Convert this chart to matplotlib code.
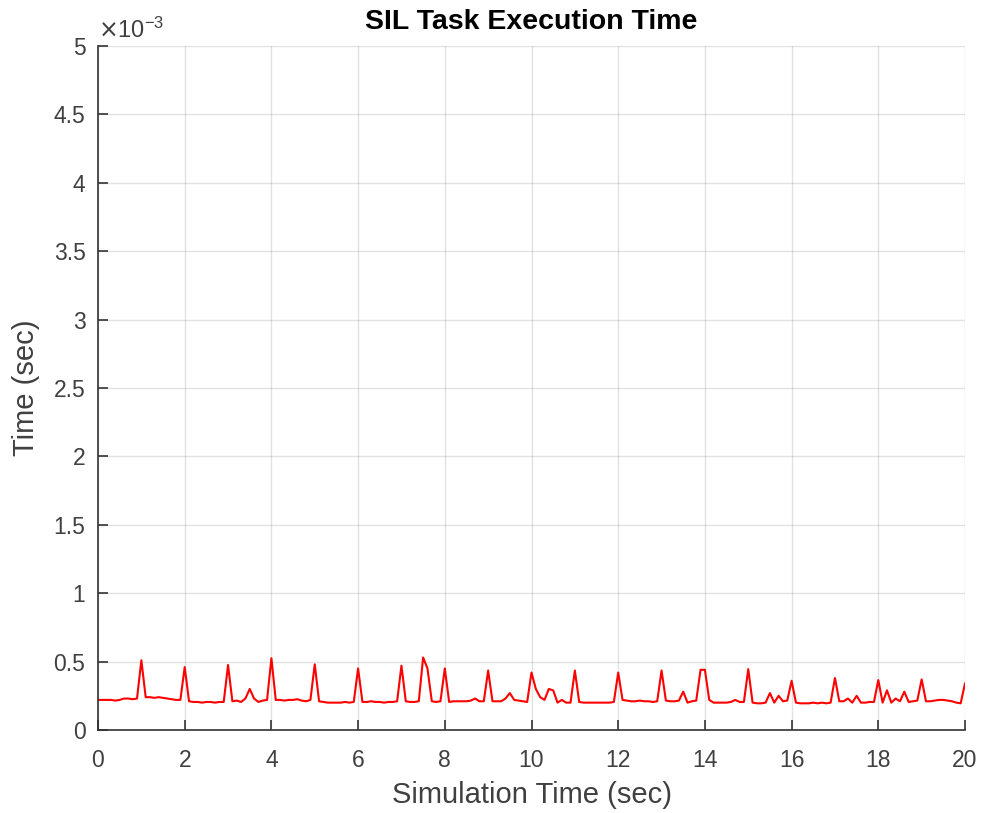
import numpy as np
import matplotlib
matplotlib.use("Agg")
import matplotlib.pyplot as plt
from matplotlib.ticker import FuncFormatter, MultipleLocator

plt.rcParams['font.family'] = ['Liberation Sans', 'DejaVu Sans']

# Simulation time (sec), 0.1 s steps
sim_time = np.round(np.arange(0, 201) * 0.1, 1)

# Task execution time in units of 1e-3 sec
exec_ms = [
    0.22, 0.22, 0.22, 0.22, 0.215, 0.22, 0.23, 0.23, 0.225, 0.23,
    0.51, 0.24, 0.24, 0.235, 0.24, 0.235, 0.23, 0.225, 0.22, 0.22,
    0.46, 0.21, 0.205, 0.205, 0.20, 0.205, 0.205, 0.20, 0.205, 0.205,
    0.475, 0.21, 0.215, 0.205, 0.23, 0.30, 0.23, 0.205, 0.215, 0.22,
    0.525, 0.22, 0.22, 0.215, 0.22, 0.22, 0.225, 0.215, 0.21, 0.22,
    0.48, 0.21, 0.205, 0.20, 0.20, 0.20, 0.20, 0.205, 0.20, 0.205,
    0.45, 0.205, 0.205, 0.21, 0.205, 0.205, 0.20, 0.205, 0.205, 0.21,
    0.47, 0.21, 0.205, 0.205, 0.21, 0.53, 0.45, 0.21, 0.205, 0.21,
    0.45, 0.205, 0.21, 0.21, 0.21, 0.21, 0.215, 0.23, 0.21, 0.21,
    0.435, 0.21, 0.21, 0.21, 0.23, 0.27, 0.22, 0.215, 0.21, 0.205,
    0.42, 0.30, 0.24, 0.22, 0.30, 0.29, 0.20, 0.22, 0.20, 0.20,
    0.435, 0.205, 0.20, 0.20, 0.20, 0.20, 0.20, 0.20, 0.20, 0.205,
    0.42, 0.22, 0.215, 0.21, 0.21, 0.215, 0.21, 0.21, 0.205, 0.21,
    0.435, 0.215, 0.21, 0.21, 0.215, 0.28, 0.20, 0.21, 0.215, 0.44,
    0.44, 0.22, 0.20, 0.20, 0.20, 0.20, 0.205, 0.22, 0.205, 0.205,
    0.445, 0.20, 0.195, 0.195, 0.20, 0.27, 0.20, 0.25, 0.21, 0.215,
    0.36, 0.20, 0.195, 0.195, 0.195, 0.20, 0.195, 0.20, 0.195, 0.20,
    0.38, 0.21, 0.21, 0.23, 0.20, 0.25, 0.20, 0.20, 0.205, 0.205,
    0.365, 0.20, 0.29, 0.20, 0.23, 0.21, 0.28, 0.205, 0.21, 0.215,
    0.37, 0.21, 0.21, 0.215, 0.22, 0.22, 0.215, 0.21, 0.20, 0.195,
    0.34,
]

x_ticks = [0, 2, 4, 6, 8, 10, 12, 14, 16, 18, 20]

fig = plt.figure(figsize=(9.82, 8.13), dpi=100)
ax = fig.add_axes([98/982, 1-730/813, (965-98)/982, (730-46)/813])

ax.plot(sim_time, np.array(exec_ms) * 1e-3, color='red', lw=1.5)

ax.set_xlim(0, 20)
ax.set_ylim(0, 5e-3)
ax.set_xticks(x_ticks)
ax.yaxis.set_major_locator(MultipleLocator(0.5e-3))
ax.yaxis.set_major_formatter(FuncFormatter(lambda v, p: f"{v*1e3:g}"))

dark = '#404040'
ax.grid(True, color='#262626', alpha=0.13, lw=1.0)
ax.spines['top'].set_visible(False)
ax.spines['right'].set_visible(False)
for s in ('left', 'bottom'):
    ax.spines[s].set_color('#333333')
    ax.spines[s].set_linewidth(1.2)
ax.tick_params(direction='in', length=7, width=1.2, colors='#333333',
               labelsize=16.5, labelcolor=dark)
ax.tick_params(axis='y', pad=9)
ax.tick_params(axis='x', pad=14)

ax.set_title('SIL Task Execution Time', fontsize=20.5, fontweight='bold',
             color='black', pad=12)
ax.set_xlabel('Simulation Time (sec)', fontsize=21, color=dark, labelpad=6)
ax.set_ylabel('Time (sec)', fontsize=21, color=dark, labelpad=10)

ax.text(0.0, 1.004, r'$\times\mathregular{10^{-3}}$', transform=ax.transAxes,
        fontsize=17, color=dark, ha='left', va='bottom')

fig.savefig('out.png', dpi=100)
